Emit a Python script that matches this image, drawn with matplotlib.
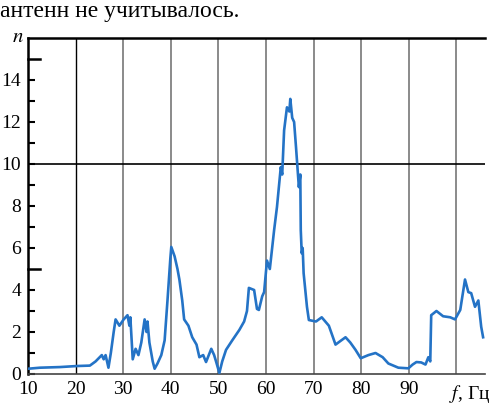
import matplotlib
matplotlib.use('Agg')
import matplotlib.pyplot as plt
from matplotlib.transforms import blended_transform_factory

plt.rcParams['font.family'] = ['Liberation Serif', 'DejaVu Serif']
plt.rcParams['mathtext.fontset'] = 'stix'

# частота f, Гц
f = [10.0, 12.5, 16.7, 20.3, 23.0, 24.2, 25.5, 25.9, 26.3, 26.9, 27.4, 28.0,
     28.4, 29.2, 30.1, 30.9, 31.3, 31.5, 32.0, 32.6, 33.2, 33.8, 34.5, 34.9,
     35.1, 35.5, 36.2, 36.6, 37.2, 38.0, 38.7, 39.3, 39.9, 40.1, 40.8, 41.4,
     41.8, 42.4, 42.8, 43.7, 44.5, 45.4, 46.0, 46.8, 47.4, 48.5, 49.1, 49.5,
     50.2, 50.8, 51.6, 52.9, 54.4, 55.4, 56.0, 56.4, 57.5, 58.1, 58.5, 59.2,
     59.6, 60.2, 60.8, 61.7, 62.3, 63.1, 63.4, 63.8, 64.4, 64.9, 65.1, 65.5,
     65.9, 66.3, 66.9, 67.2, 67.3, 67.5, 67.7, 67.9, 68.6, 69.0, 70.5, 71.7,
     73.2, 74.6, 76.7, 77.7, 78.8, 79.9, 81.5, 83.0, 84.5, 85.7, 87.8, 89.9,
     90.8, 91.6, 92.6, 93.5, 94.1, 94.5, 94.7, 95.8, 97.2, 98.7, 99.7, 100.8,
     101.8, 102.5, 103.1, 103.9, 104.6, 105.2, 105.6]
# n
n = [0.25, 0.3, 0.33, 0.38, 0.4, 0.6, 0.9, 0.7, 0.9, 0.3, 1.0, 2.0,
     2.6, 2.3, 2.6, 2.8, 2.3, 2.7, 0.7, 1.2, 0.9, 1.5, 2.6, 2.0,
     2.5, 1.5, 0.6, 0.25, 0.5, 0.9, 1.6, 3.5, 5.5, 6.05, 5.6, 5.0,
     4.5, 3.5, 2.6, 2.3, 1.75, 1.4, 0.8, 0.9, 0.57, 1.2, 0.9, 0.6,
     0.05, 0.6, 1.15, 1.6, 2.1, 2.5, 3.0, 4.1, 4.0, 3.1, 3.05, 3.7,
     3.9, 5.4, 5.0, 6.85, 7.95, 9.85, 9.5, 11.6, 12.7, 12.5, 13.1, 12.2,
     12.0, 10.8, 8.9, 9.5, 6.85, 5.75, 6.0, 4.8, 3.2, 2.57, 2.5, 2.7,
     2.3, 1.4, 1.75, 1.5, 1.15, 0.75, 0.9, 1.0, 0.8, 0.5, 0.3, 0.27,
     0.45, 0.57, 0.55, 0.45, 0.8, 0.6, 2.8, 3.0, 2.75, 2.7, 2.6, 3.05,
     4.5, 3.9, 3.85, 3.2, 3.5, 2.25, 1.75]

xticks = [10, 20, 30, 40, 50, 60, 70, 80, 90]
yticks = [0, 2, 4, 6, 8, 10, 12, 14]

fig = plt.figure(figsize=(4.93, 4.08), dpi=100)
ax = fig.add_axes([28/493, 34/408, 457/493, 336/408])

ax.plot(f, n, color='#2473c6', linewidth=1.9, zorder=3)

ax.set_xlim(10, 106)
ax.set_ylim(0, 16)

# сетка
ax.axvline(20, color='black', linewidth=1.0, zorder=1)
for x in range(30, 101, 10):
    ax.axvline(x, color='#8a8a8a', linewidth=1.4, zorder=1)
ax.axhline(10, color='black', linewidth=1.2, zorder=1)

# оси
ax.spines['right'].set_visible(False)
ax.spines['top'].set_linewidth(1.8)
ax.spines['left'].set_linewidth(1.8)
ax.spines['bottom'].set_linewidth(1.2)
ax.spines['bottom'].set_color('#444444')

ax.set_xticks(xticks)
ax.set_xticklabels([str(x) for x in xticks], fontsize=14)
ax.tick_params(axis='x', length=0, pad=5)

ax.set_yticks(yticks)
ax.set_yticklabels([str(y) for y in yticks], fontsize=14)
ax.set_yticks([1, 3, 7, 9, 11, 13], minor=True)
ax.tick_params(axis='y', which='both', direction='in', length=5, width=1.5, pad=5)

# длинные штрихи на 5 и 15
for y in [5, 15]:
    ax.plot([10, 12.5], [y, y], color='black', linewidth=1.8, clip_on=False, zorder=2)

trans = blended_transform_factory(ax.transData, ax.transAxes)
ax.text(98.4, -0.028, '$f$, Гц', transform=trans, fontsize=14,
        ha='left', va='top')
ax.text(-0.01, 1.0, '$n$', transform=ax.transAxes, fontsize=15,
        ha='right', va='center')

fig.text(0.0, 1 - 17/408, 'антенн не учитывалось.', fontsize=17,
         ha='left', va='baseline')

fig.savefig('out.png', dpi=100)
